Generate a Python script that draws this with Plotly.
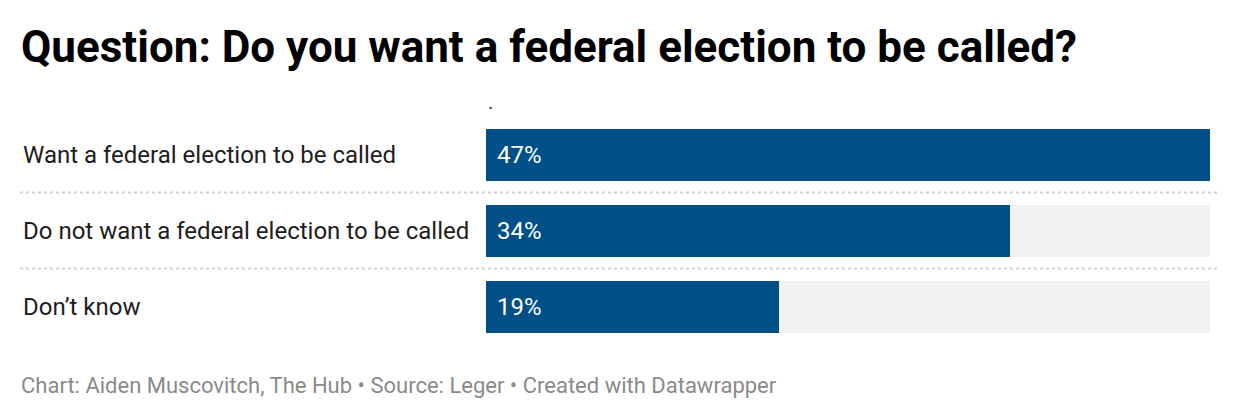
import plotly.graph_objects as go

categories = ["Want a federal election to be called",
              "Do not want a federal election to be called",
              "Don’t know"]
values = [47, 34, 19]
value_labels = ["47%", "34%", "19%"]

title = "Question: Do you want a federal election to be called?"
footer = "Chart: Aiden Muscovitch, The Hub • Source: Leger • Created with Datawrapper"

W, H = 1240, 420
OFF = 8  # page body margin offset
FONT = "Roboto"
BLUE = "#004f86"
maxv = max(values)
ypos = list(range(len(categories)))


def px(x):
    return (x - OFF) / W


def py(y):
    return 1 - (y - OFF) / H


fig = go.Figure()
fig.add_trace(go.Bar(x=[maxv] * len(values), y=ypos, orientation="h",
                     marker=dict(color="#f2f2f2", line=dict(width=0)),
                     width=0.697, hoverinfo="skip", showlegend=False))
fig.add_trace(go.Bar(x=values, y=ypos, orientation="h",
                     marker=dict(color=BLUE, line=dict(width=0)),
                     width=0.697, showlegend=False))

ann = []
for i, (c, t) in enumerate(zip(categories, value_labels)):
    ann.append(dict(x=px(21), xref="paper", y=i, yref="y", text=c,
                    showarrow=False, xanchor="left", yanchor="middle",
                    font=dict(family=FONT, size=24, color="#1d1d1d")))
    ann.append(dict(x=0, xref="x", y=i, yref="y", text=t, xshift=9,
                    showarrow=False, xanchor="left", yanchor="middle",
                    font=dict(family=FONT, size=24, color="#ffffff")))
ann.append(dict(x=px(486), xref="paper", y=py(102), yref="paper", text=".",
                showarrow=False, xanchor="left", yanchor="middle",
                font=dict(family=FONT, size=20, color="#333333")))
ann.append(dict(x=px(19), xref="paper", y=py(47), yref="paper", text="<b>" + title + "</b>",
                showarrow=False, xanchor="left", yanchor="middle",
                font=dict(family=FONT, size=44, color="#000000")))
ann.append(dict(x=px(19), xref="paper", y=py(385), yref="paper", text=footer,
                showarrow=False, xanchor="left", yanchor="middle",
                font=dict(family=FONT, size=22, color="#8a8a8a")))

shapes = []
for k in range(len(categories) - 1):
    shapes.append(dict(type="line", xref="paper", yref="y",
                       x0=px(20), x1=px(1218), y0=k + 0.5, y1=k + 0.5,
                       line=dict(color="#d4d4d4", width=2, dash="dot")))

fig.update_layout(
    width=W, height=H, margin=dict(l=0, r=0, t=0, b=0),
    paper_bgcolor="white", plot_bgcolor="white",
    barmode="overlay", bargap=0,
    xaxis=dict(domain=[px(486), px(1210)], range=[0, maxv], visible=False, fixedrange=True),
    yaxis=dict(domain=[py(344.5), py(116.5)], range=[2.5, -0.5], visible=False, fixedrange=True),
    annotations=ann, shapes=shapes,
)
fig.write_html("out.html")
